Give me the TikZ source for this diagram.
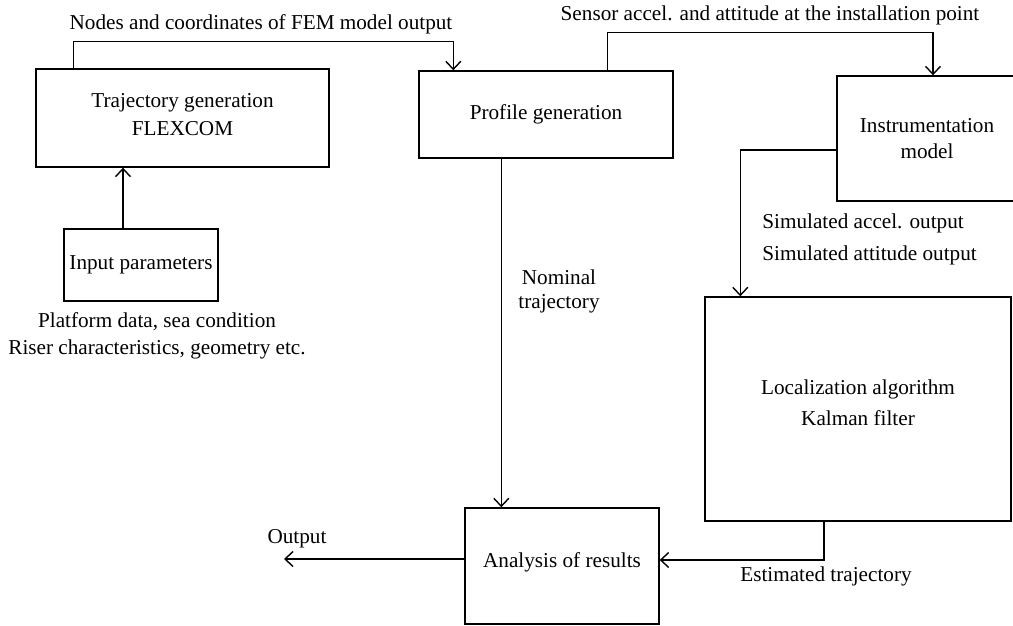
\documentclass[tikz,border=0pt]{standalone}
\usepackage{fontspec}
\setmainfont{Liberation Serif}
\usetikzlibrary{arrows.meta,positioning}
\tikzset{
    every node/.style={font=\fontsize{10.6}{12.7}\selectfont, inner sep=0pt},
    box/.style={
                draw=black,
                line width=0.7pt,
                align=center
            },
    lbl/.style={
                align=center
            },
    arr/.style={
                line width=0.7pt,
                -{Straight Barb[length=4pt,width=7.5pt]}
            },
}
\begin{document}
\begin{tikzpicture}[x=0.5pt,y=-0.5pt]
  \useasboundingbox (0,0) rectangle (1013,626);
  % Boxes
  \node[box,minimum width=146.5pt,minimum height=49pt,text depth=4pt] (traj) at (182.5,118)
      {Trajectory generation\\[1.3pt]FLEXCOM};
  \node[box,minimum width=77pt,minimum height=36pt] (inp) at (141,265) {Input parameters};
  \node[box,minimum width=127pt,minimum height=43.5pt] (prof) at (546,114.5) {Profile generation};
  \node[box,minimum width=90pt,minimum height=62.5pt] (instr) at (927,138.5)
      {Instrumentation\\model};
  \node[box,minimum width=153pt,minimum height=112pt,text depth=6pt] (local) at (858,409)
      {Localization algorithm\\[2.8pt]Kalman filter};
  \node[box,minimum width=97pt,minimum height=58pt,text depth=6.3pt] (ana) at (562,566) {Analysis of results};
  \coordinate (out) at (284,559);
  % Labels
  \node[lbl] (fem) at (261,24) {Nodes and coordinates of FEM model output};
  \node[lbl] (sens) at (770,15) {Sensor accel. and attitude at the installation point};
  \node[lbl] (plat) at (157,335.5) {Platform data, sea condition\\[0.8pt]Riser characteristics, geometry etc.};
  \node[lbl] (nom) at (559,291) {Nominal\\[-0.7pt]trajectory};
  \node[lbl,align=left,anchor=west] (sim) at (762,239) {Simulated accel. output\\[3.3pt]Simulated attitude output};
  \node[lbl] (est) at (826,576) {Estimated trajectory};
  \node[lbl] (outl) at (297,539) {Output};
  % Connectors
  \draw[arr] ([xshift=19pt]traj.north west) -- ++(0,-27) -| ([xshift=17.5pt]prof.north west);
  \draw[arr] ([xshift=-9pt]inp.north) -- ([xshift=-9pt]inp.north |- traj.south);
  \draw[arr] ([xshift=94.5pt]prof.north west) -- ++(0,-38) -| ([xshift=3pt]instr.north);
  \draw[arr] ([yshift=-5.75pt]instr.west) -| ([xshift=18pt]local.north west);
  \draw[arr] ([xshift=41.5pt]prof.south west) -- ([xshift=18.5pt]ana.north west);
  \draw[arr] ([xshift=-17pt]local.south) |- ([yshift=3pt]ana.east);
  \draw[arr] ([yshift=3.5pt]ana.west) -- (out);
\end{tikzpicture}
\end{document}
